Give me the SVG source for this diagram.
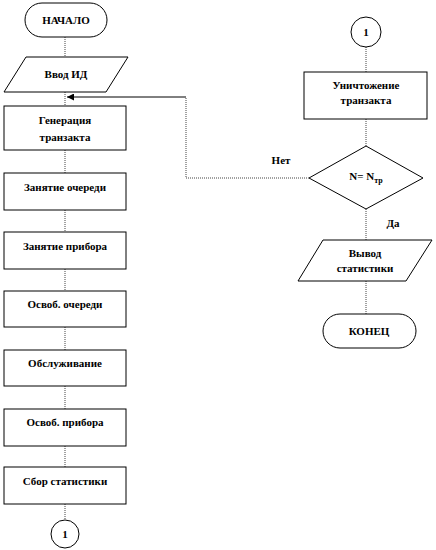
<svg xmlns="http://www.w3.org/2000/svg" width="436" height="550" viewBox="0 0 436 550">
<defs>
<style>
.s{fill:#fff;stroke:#000;stroke-width:1}
.t{font-family:'Liberation Serif','DejaVu Serif',serif;font-weight:bold;font-size:11px;fill:#000;text-anchor:middle}
.c{fill:none;stroke:#444;stroke-width:1;stroke-dasharray:1,1}
.k{fill:none;stroke:#000;stroke-width:1}
</style>
<marker id="ah" viewBox="0 0 8 8" refX="8" refY="4" markerWidth="7" markerHeight="7" orient="auto">
<path d="M0,0 L8,4 L0,8 Z" fill="#000"/>
</marker>
</defs>
<rect width="436" height="550" fill="#fff"/>
<g id="connectors">
<line class="c" x1="65" y1="37" x2="65" y2="57"/>
<line class="c" x1="65" y1="92" x2="65" y2="106"/>
<line class="c" x1="65" y1="150" x2="65" y2="173"/>
<line class="c" x1="65" y1="210" x2="65" y2="232"/>
<line class="c" x1="65" y1="269" x2="65" y2="291"/>
<line class="c" x1="65" y1="327" x2="65" y2="350"/>
<line class="c" x1="65" y1="386" x2="65" y2="409"/>
<line class="c" x1="65" y1="446" x2="65" y2="467"/>
<line class="c" x1="65" y1="504" x2="65" y2="520"/>
<line class="c" x1="366" y1="47" x2="366" y2="72"/>
<line class="c" x1="366" y1="119" x2="366" y2="146"/>
<line class="c" x1="366" y1="209" x2="366" y2="240"/>
<line class="c" x1="366" y1="281" x2="366" y2="314"/>
<polyline class="c" points="309,178 186,178 186,97"/>
<line class="k" x1="186" y1="97" x2="67" y2="97" marker-end="url(#ah)"/>
<text class="t" x="281" y="164">Нет</text>
<text class="t" x="393" y="227">Да</text>
</g>
<g id="start"><rect class="s" x="25" y="3" width="82" height="34" rx="17"/><text class="t" x="66" y="24">НАЧАЛО</text></g>
<g id="input"><polygon class="s" points="26,57 128,57 106,92 4,92"/><text class="t" x="66" y="78">Ввод ИД</text></g>
<g id="gen"><rect class="s" x="4" y="106" width="122" height="44"/><text class="t" x="65" y="124">Генерация</text><text class="t" x="65" y="141">транзакта</text></g>
<g id="q1"><rect class="s" x="4" y="173" width="122" height="37"/><text class="t" x="65" y="191">Занятие очереди</text></g>
<g id="d1"><rect class="s" x="4" y="232" width="122" height="37"/><text class="t" x="65" y="250">Занятие прибора</text></g>
<g id="q2"><rect class="s" x="4" y="291" width="122" height="36"/><text class="t" x="65" y="308">Освоб. очереди</text></g>
<g id="serv"><rect class="s" x="4" y="350" width="122" height="36"/><text class="t" x="65" y="367">Обслуживание</text></g>
<g id="d2"><rect class="s" x="4" y="409" width="122" height="37"/><text class="t" x="65" y="426">Освоб. прибора</text></g>
<g id="stat"><rect class="s" x="4" y="467" width="122" height="37"/><text class="t" x="65" y="485">Сбор статистики</text></g>
<g id="con1"><circle class="s" cx="65" cy="534" r="14"/><text class="t" x="65" y="538">1</text></g>
<g id="con2"><circle class="s" cx="366" cy="32" r="15"/><text class="t" x="366" y="36">1</text></g>
<g id="destroy"><rect class="s" x="304" y="72" width="123" height="47"/><text class="t" x="366" y="89">Уничтожение</text><text class="t" x="366" y="104">транзакта</text></g>
<g id="cond"><polygon class="s" points="366,146 423,178 366,209 309,178"/><text class="t" x="366" y="180">N= N<tspan font-size="8" dy="3">тр</tspan></text></g>
<g id="output"><polygon class="s" points="323,240 432,240 406,281 298,281"/><text class="t" x="365" y="257">Вывод</text><text class="t" x="365" y="272">статистики</text></g>
<g id="end"><rect class="s" x="323" y="314" width="93" height="34" rx="17"/><text class="t" x="369" y="335">КОНЕЦ</text></g>
</svg>
